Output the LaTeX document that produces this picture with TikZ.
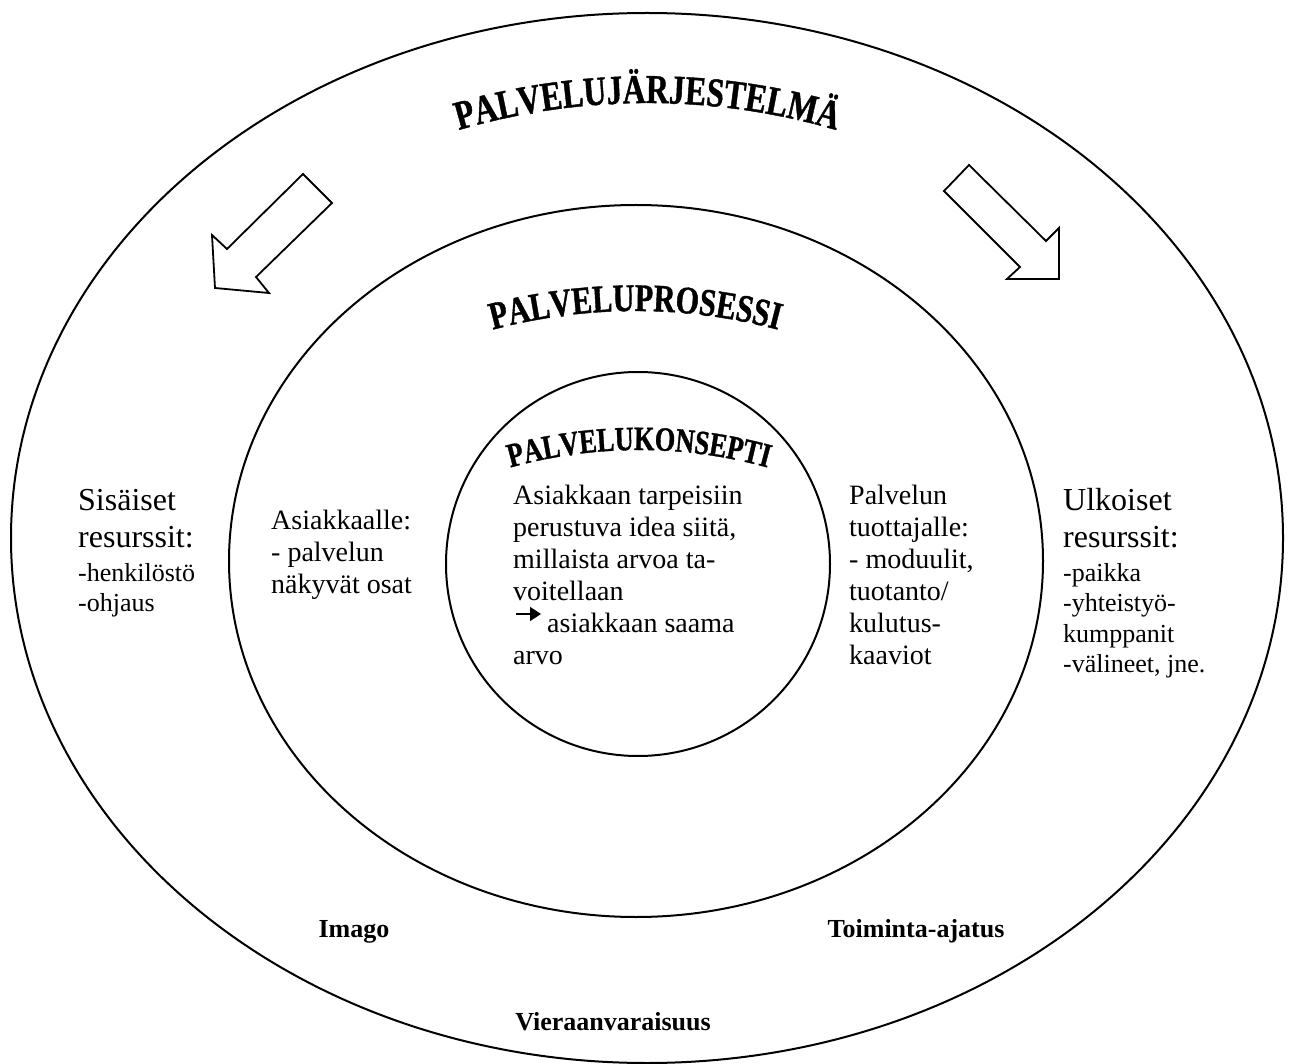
\documentclass[tikz,border=0pt]{standalone}
\usepackage{fontspec}
\setmainfont{Liberation Serif}
\newfontfamily\archfont[FakeStretch=0.77,FakeBold=1,UprightFont=* Bold]{Liberation Serif}
\usetikzlibrary{decorations.text}
\usetikzlibrary{arrows.meta}

\begin{document}
\begin{tikzpicture}[x=1pt,y=1pt,yscale=-1,
  ring/.style={line width=2pt},
  hollow/.style={line width=1.8pt,line join=miter},
  txt/.style={anchor=base west,inner sep=0pt,align=left,font=\fontsize{28}{32}\selectfont},
  headtxt/.style={anchor=base west,inner sep=0pt,align=left,font=\fontsize{32}{37}\selectfont},
  listtxt/.style={anchor=base west,inner sep=0pt,align=left,font=\fontsize{26}{30.5}\selectfont},
  boldtxt/.style={anchor=base,inner sep=0pt,font=\bfseries\fontsize{26}{30}\selectfont},
  arched/.style={decorate,decoration={text along path,text align=center,text={#1}}}]
\useasboundingbox (0,0) rectangle (1291,1064);

%Shape: Ellipse [outer]
\draw [ring] (647,538) ellipse [x radius=636,y radius=525];
%Shape: Ellipse [middle]
\draw [ring] (636,561) ellipse [x radius=407,y radius=356];
%Shape: Circle [inner]
\draw [ring] (638,564) circle [radius=192];

%Shape: Arrow [left]
\draw [hollow] (303,174) -- (332,203) -- (256,277) -- (269,293) -- (215,288) -- (212,235) -- (227,249) -- cycle;
%Shape: Arrow [right]
\draw [hollow] (969,165) -- (1046,241) -- (1059,228) -- (1059,279) -- (1007,279) -- (1020,267) -- (944,191) -- cycle;

% Arched titles (baseline arcs)
\path [arched={|\archfont\fontsize{41}{41}\selectfont|PALVELUJÄRJESTELMÄ}] (439.8,135.9) arc [start angle=252,end angle=288,radius=672];
\path [arched={|\archfont\fontsize{39}{39}\selectfont|PALVELUPROSESSI}] (473.5,335.2) arc [start angle=253,end angle=287,radius=554];
\path [arched={|\archfont\fontsize{34}{34}\selectfont|PALVELUKONSEPTI}] (482.1,476.3) arc [start angle=251,end angle=289,radius=482];

% Text Node (anchored at the baseline of the last line)
\draw (78,547) node [headtxt] (sisH) {Sisäiset\\resurssit:};
% Text Node
\draw (78,611.5) node [listtxt] (sisL) {-henkilöstö\\-ohjaus};
% Text Node
\draw (271,593) node [txt] (asiak) {Asiakkaalle:\\- palvelun\\näkyvät osat};
% Text Node
\draw (513,664) node [txt] (konsepti) {Asiakkaan tarpeisiin\\perustuva idea siitä,\\millaista arvoa ta-\\voitellaan\\\hspace*{34pt}asiakkaan saama\\arvo};
% Arrow in text
\coordinate (arwS) at (516,614);
\coordinate (arwE) at (541,614);
\draw [-{Triangle[length=11pt,width=14pt]},line width=1.6pt] (arwS) -- (arwE);
% Text Node
\draw (849,664) node [txt] (tuott) {Palvelun\\tuottajalle:\\- moduulit,\\tuotanto/\\kulutus-\\kaaviot};
% Text Node
\draw (1063,547) node [headtxt] (ulkH) {Ulkoiset\\resurssit:};
% Text Node
\draw (1063,672.5) node [listtxt] (ulkL) {-paikka\\-yhteistyö-\\kumppanit\\-välineet, jne.};
% Text Node
\draw (354,937) node [boldtxt] (imago) {Imago};
% Text Node
\draw (916,937) node [boldtxt] (toim) {Toiminta-ajatus};
% Text Node
\draw (613,1030) node [boldtxt] (vier) {Vieraanvaraisuus};

\end{tikzpicture}
\end{document}
